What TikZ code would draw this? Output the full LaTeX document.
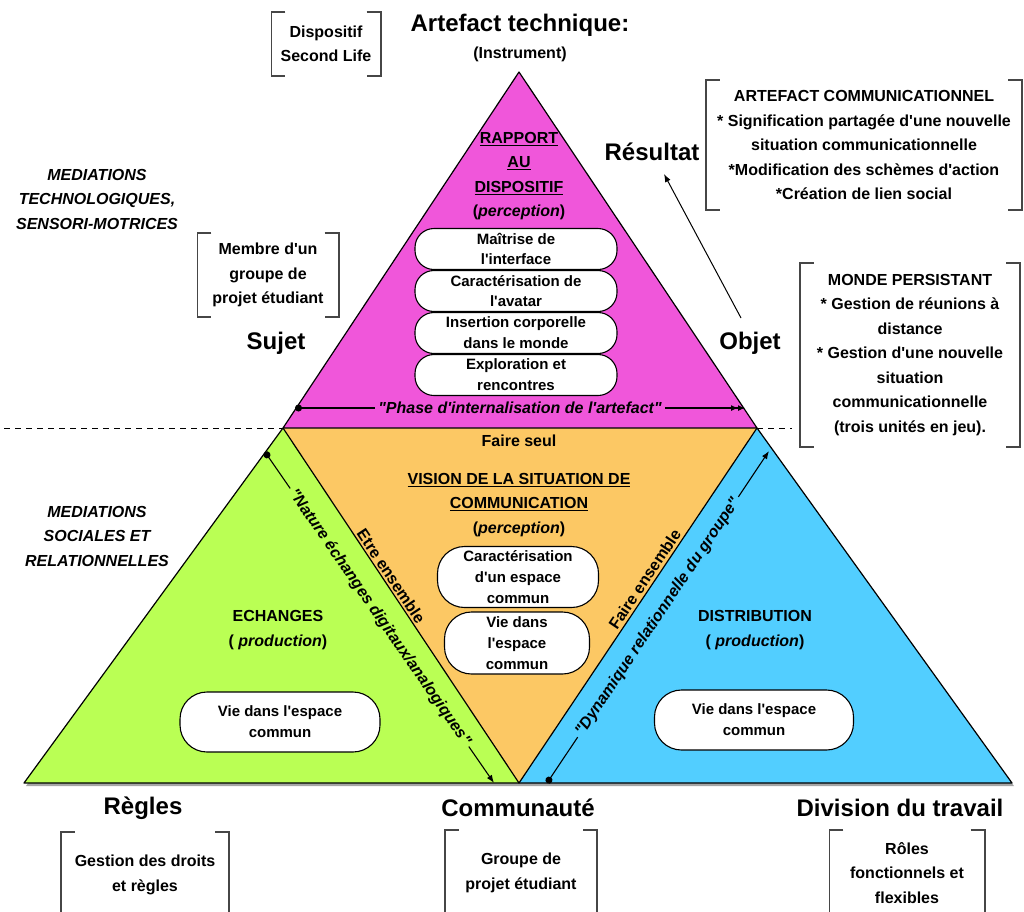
\documentclass[tikz,border=0pt]{standalone}
\usepackage{fontspec}
\setmainfont{Liberation Sans}[Ligatures=TeXOff]
\usetikzlibrary{arrows.meta}

\definecolor{pinkfill}{RGB}{240,86,218}
\definecolor{orangefill}{RGB}{252,200,100}
\definecolor{greenfill}{RGB}{186,255,84}
\definecolor{bluefill}{RGB}{82,206,255}
\definecolor{brkgray}{RGB}{70,70,70}

\newcommand\txtbig{\fontsize{24}{28}\selectfont\bfseries}
\newcommand\txtnorm{\fontsize{16}{24.5}\selectfont\bfseries}
\newcommand\txtpill{\fontsize{15}{20.8}\selectfont\bfseries}

% square brackets drawn on the left and right sides of a node
\newcommand\bracketsaround[1]{%
  \draw[brkline] ([xshift=14pt]#1.north west) -- (#1.north west) -- (#1.south west) -- ([xshift=14pt]#1.south west);
  \draw[brkline] ([xshift=-14pt]#1.north east) -- (#1.north east) -- (#1.south east) -- ([xshift=-14pt]#1.south east);}

\begin{document}
\begin{tikzpicture}[x=1pt,y=-1pt,
  every node/.style={inner sep=0pt, align=center, text=black, font=\txtnorm},
  big/.style={font=\txtbig},
  ital/.style={font=\txtnorm\itshape},
  brkline/.style={draw=brkgray, line width=1.6pt},
  pill/.style={draw=black, line width=1.1pt, fill=white, rounded corners=19pt, font=\txtpill},
  tallpill/.style={pill, rounded corners=27pt},
  edge/.style={draw=black, line width=1.2pt, line join=round},
  flow/.style={line width=1.1pt, arrows={Circle[length=7pt]-Latex[length=8pt,width=6pt]}},
  flowtwo/.style={line width=1.1pt, arrows={Circle[length=7pt]-Latex[length=7pt,width=6pt]Latex[length=7pt,width=6pt]}},
  flowlabel/.style={font=\txtnorm\itshape, inner sep=3pt},
]
\useasboundingbox (0,0) rectangle (1024,911);

% corners of the subdivided triangle
\coordinate (A)  at (519,72);
\coordinate (PL) at (283,428);
\coordinate (PR) at (757,428);
\coordinate (OB) at (519,783);
\coordinate (GL) at (24,783);
\coordinate (BR) at (1012,783);

% shadow under the lower triangles
\fill[black!35] ([shift={(2,3)}]GL) -- ([shift={(2,3)}]PL) -- ([shift={(2,3)}]PR) -- ([shift={(2,3)}]BR) -- cycle;

% coloured triangles
\fill[pinkfill]   (A) -- (PL) -- (PR) -- cycle;
\fill[orangefill] (PL) -- (PR) -- (OB) -- cycle;
\fill[greenfill]  (PL) -- (GL) -- (OB) -- cycle;
\fill[bluefill]   (PR) -- (OB) -- (BR) -- cycle;
\draw[edge] (A) -- (PL) -- (PR) -- cycle;
\draw[edge] (PL) -- (OB) -- (PR);
\draw[edge] (PL) -- (GL) -- (BR) -- (PR);

% dashed separation between the two mediation levels
\coordinate (dashL) at (4,428);
\coordinate (dashR) at (792,428);
\draw[line width=1pt, dash pattern=on 6pt off 5pt] (dashL) -- (PL);
\draw[line width=1pt, dash pattern=on 6pt off 5pt] (PR) -- (dashR);

% poles of the activity system
\node[big] (artefact) at (520,25) {Artefact technique:};
\node (instr) at (520,54) {(Instrument)};
\node[big] (resultat) at (652,152) {Résultat};
\node[big] (sujet) at (276,343) {Sujet};
\node[big] (objet) at (750,343) {Objet};
\node[big] (regles) at (143,808) {Règles};
\node[big] (commu) at (518,808) {Communauté};
\node[big] (division) at (900,808) {Division du travail};

% mediation levels
\node[ital] (medtech) at (97,199) {MEDIATIONS\\TECHNOLOGIQUES,\\SENSORI-MOTRICES};
\node[ital] (medsoc) at (97,536) {MEDIATIONS\\SOCIALES ET\\RELATIONNELLES};

% bracketed notes
\node[minimum width=109pt, minimum height=64pt] (dispo) at (326,44) {Dispositif\\Second Life};
\bracketsaround{dispo}
\node[minimum width=316pt, minimum height=130pt] (artcom) at (864,145)
  {ARTEFACT COMMUNICATIONNEL\\* Signification partagée d'une nouvelle\\situation communicationnelle\\*Modification des schèmes d'action\\*Création de lien social};
\bracketsaround{artcom}
\node[minimum width=141pt, minimum height=84pt] (membre) at (268,275) {Membre d'un\\groupe de\\projet étudiant};
\bracketsaround{membre}
\node[minimum width=220pt, minimum height=184pt] (monde) at (910,355)
  {MONDE PERSISTANT\\* Gestion de réunions à\\distance\\* Gestion d'une nouvelle\\situation\\communicationnelle\\(trois unités en jeu).};
\bracketsaround{monde}
\node[minimum width=168pt, minimum height=86pt] (droits) at (145,875) {Gestion des droits\\et règles};
\bracketsaround{droits}
\node[minimum width=152pt, minimum height=86pt] (groupe) at (521,873) {Groupe de\\projet étudiant};
\bracketsaround{groupe}
\node[minimum width=155pt, minimum height=86pt] (roles) at (907,873) {Rôles\\fonctionnels et\\flexibles};
\bracketsaround{roles}

% instrument: relation to the device
\node (rapport) at (519,176) {\underline{RAPPORT}\\\underline{AU}\\\underline{DISPOSITIF}\\(\textit{perception})};
\node[pill, minimum width=202pt, minimum height=41pt] (p1) at (516,249) {Maîtrise de\\l'interface};
\node[pill, minimum width=202pt, minimum height=41pt] (p2) at (516,291) {Caractérisation de\\l'avatar};
\node[pill, minimum width=202pt, minimum height=41pt] (p3) at (516,333) {Insertion corporelle\\dans le monde};
\node[pill, minimum width=202pt, minimum height=41pt] (p4) at (516,375) {Exploration et\\rencontres};

% community: vision of the situation
\node (seul) at (519,441) {Faire seul};
\node (vision) at (519,505) {\underline{VISION DE LA SITUATION DE}\\\underline{COMMUNICATION}\\(\textit{perception})};
\node[tallpill, minimum width=161pt, minimum height=61pt] (o1) at (518,577) {Caractérisation\\d'un espace\\commun};
\node[tallpill, minimum width=145pt, minimum height=62pt] (o2) at (517,643) {Vie dans\\l'espace\\commun};

% rules: exchanges
\node (echanges) at (278,630) {ECHANGES\\( \textit{production})};
\node[tallpill, minimum width=200pt, minimum height=60pt] (g1) at (280,722) {Vie dans l'espace\\commun};

% division of labour: distribution
\node (distrib) at (755,630) {DISTRIBUTION\\( \textit{production})};
\node[tallpill, minimum width=199pt, minimum height=60pt] (b1) at (754,720) {Vie dans l'espace\\commun};

% labels along the shared edges
\path (PL) -- (OB) node[pos=0.43, sloped, above=2pt] (etre) {Etre ensemble};
\path (OB) -- (PR) node[pos=0.56, sloped, above=3pt] (faire) {Faire ensemble};

% process arrows
\coordinate (ph1) at (295,408);
\coordinate (ph2) at (745,408);
\draw[flowtwo] (ph1) -- (ph2) node[midway, fill=pinkfill, flowlabel] (phase) {"Phase d'internalisation de l'artefact"};
\coordinate (na1) at (265,452);
\coordinate (na2) at (494,783);
\draw[flow] (na1) -- (na2) node[midway, sloped, fill=greenfill, flowlabel] (nature) {"Nature échanges digitaux/analogiques"};
\coordinate (dy1) at (547,783);
\coordinate (dy2) at (769,451);
\draw[flow] (dy1) -- (dy2) node[midway, sloped, fill=bluefill, flowlabel] (dynamique) {"Dynamique relationnelle du groupe"};

% from the object to the outcome
\coordinate (res1) at (741,318);
\coordinate (res2) at (664,174);
\draw[line width=1pt, -{Latex[length=8pt,width=6pt]}] (res1) -- (res2);
\end{tikzpicture}
\end{document}
